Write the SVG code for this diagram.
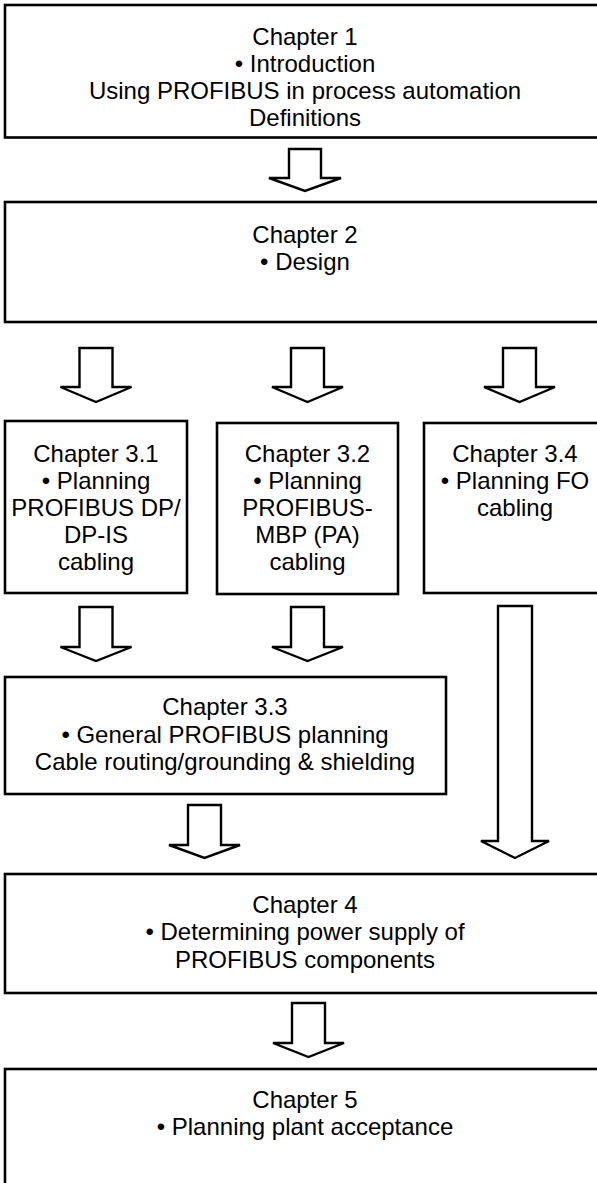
<svg xmlns="http://www.w3.org/2000/svg" width="597" height="1183" viewBox="0 0 597 1183">
<style>
.box{fill:#fff;stroke:#000;stroke-width:2.6}
.arr{fill:#fff;stroke:#000;stroke-width:2.4;stroke-linejoin:miter}
text{font-family:"Liberation Sans",Arial,sans-serif;font-size:24px;fill:#000;text-anchor:middle}
</style>
<rect width="597" height="1183" fill="#fff"/>
<g id="connectors">
<path class="arr" d="M289,149H321V178H341L305,191L269,178H289Z"/>
<path class="arr" d="M79.5,348H112.5V387H131.5L96,402L60.5,387H79.5Z"/>
<path class="arr" d="M291,348H324V387H343L307.5,402L272,387H291Z"/>
<path class="arr" d="M503,348H536V387H555L519.5,402L484,387H503Z"/>
<path class="arr" d="M79.5,607H112.5V647H131.5L96,661L60.5,647H79.5Z"/>
<path class="arr" d="M291,607H324V647H343L307.5,661L272,647H291Z"/>
<path class="arr" d="M498,606H532V841H549L515,858L481,841H498Z"/>
<path class="arr" d="M188,805H221V845H240L204.5,858L169,845H188Z"/>
<path class="arr" d="M292,1003H325V1043H344L308.5,1057L273,1043H292Z"/>
</g>
<g id="ch1">
<rect class="box" x="5" y="5" width="600" height="132.5"/>
<text x="305" y="45">Chapter 1</text>
<text x="305" y="72">• Introduction</text>
<text x="305" y="99">Using PROFIBUS in process automation</text>
<text x="305" y="126">Definitions</text>
</g>
<g id="ch2">
<rect class="box" x="5" y="202" width="600" height="120"/>
<text x="305" y="243">Chapter 2</text>
<text x="305" y="270">• Design</text>
</g>
<g id="ch31">
<rect class="box" x="5" y="421" width="182" height="172"/>
<text x="96" y="462">Chapter 3.1</text>
<text x="96" y="489">• Planning</text>
<text x="96" y="516">PROFIBUS DP/</text>
<text x="96" y="543">DP-IS</text>
<text x="96" y="570">cabling</text>
</g>
<g id="ch32">
<rect class="box" x="217" y="423" width="181" height="171"/>
<text x="307.5" y="462">Chapter 3.2</text>
<text x="307.5" y="489">• Planning</text>
<text x="307.5" y="516">PROFIBUS-</text>
<text x="307.5" y="543">MBP (PA)</text>
<text x="307.5" y="570">cabling</text>
</g>
<g id="ch34">
<rect class="box" x="424" y="423" width="182" height="170"/>
<text x="515" y="462">Chapter 3.4</text>
<text x="515" y="489">• Planning FO</text>
<text x="515" y="516">cabling</text>
</g>
<g id="ch33">
<rect class="box" x="5" y="677" width="441" height="117"/>
<text x="225" y="715">Chapter 3.3</text>
<text x="225" y="743">• General PROFIBUS planning</text>
<text x="225" y="770">Cable routing/grounding &amp; shielding</text>
</g>
<g id="ch4">
<rect class="box" x="5" y="874" width="600" height="119"/>
<text x="305" y="913">Chapter 4</text>
<text x="305" y="940">• Determining power supply of</text>
<text x="305" y="968">PROFIBUS components</text>
</g>
<g id="ch5">
<rect class="box" x="5" y="1069" width="600" height="130"/>
<text x="305" y="1108">Chapter 5</text>
<text x="305" y="1135">• Planning plant acceptance</text>
</g>
</svg>
